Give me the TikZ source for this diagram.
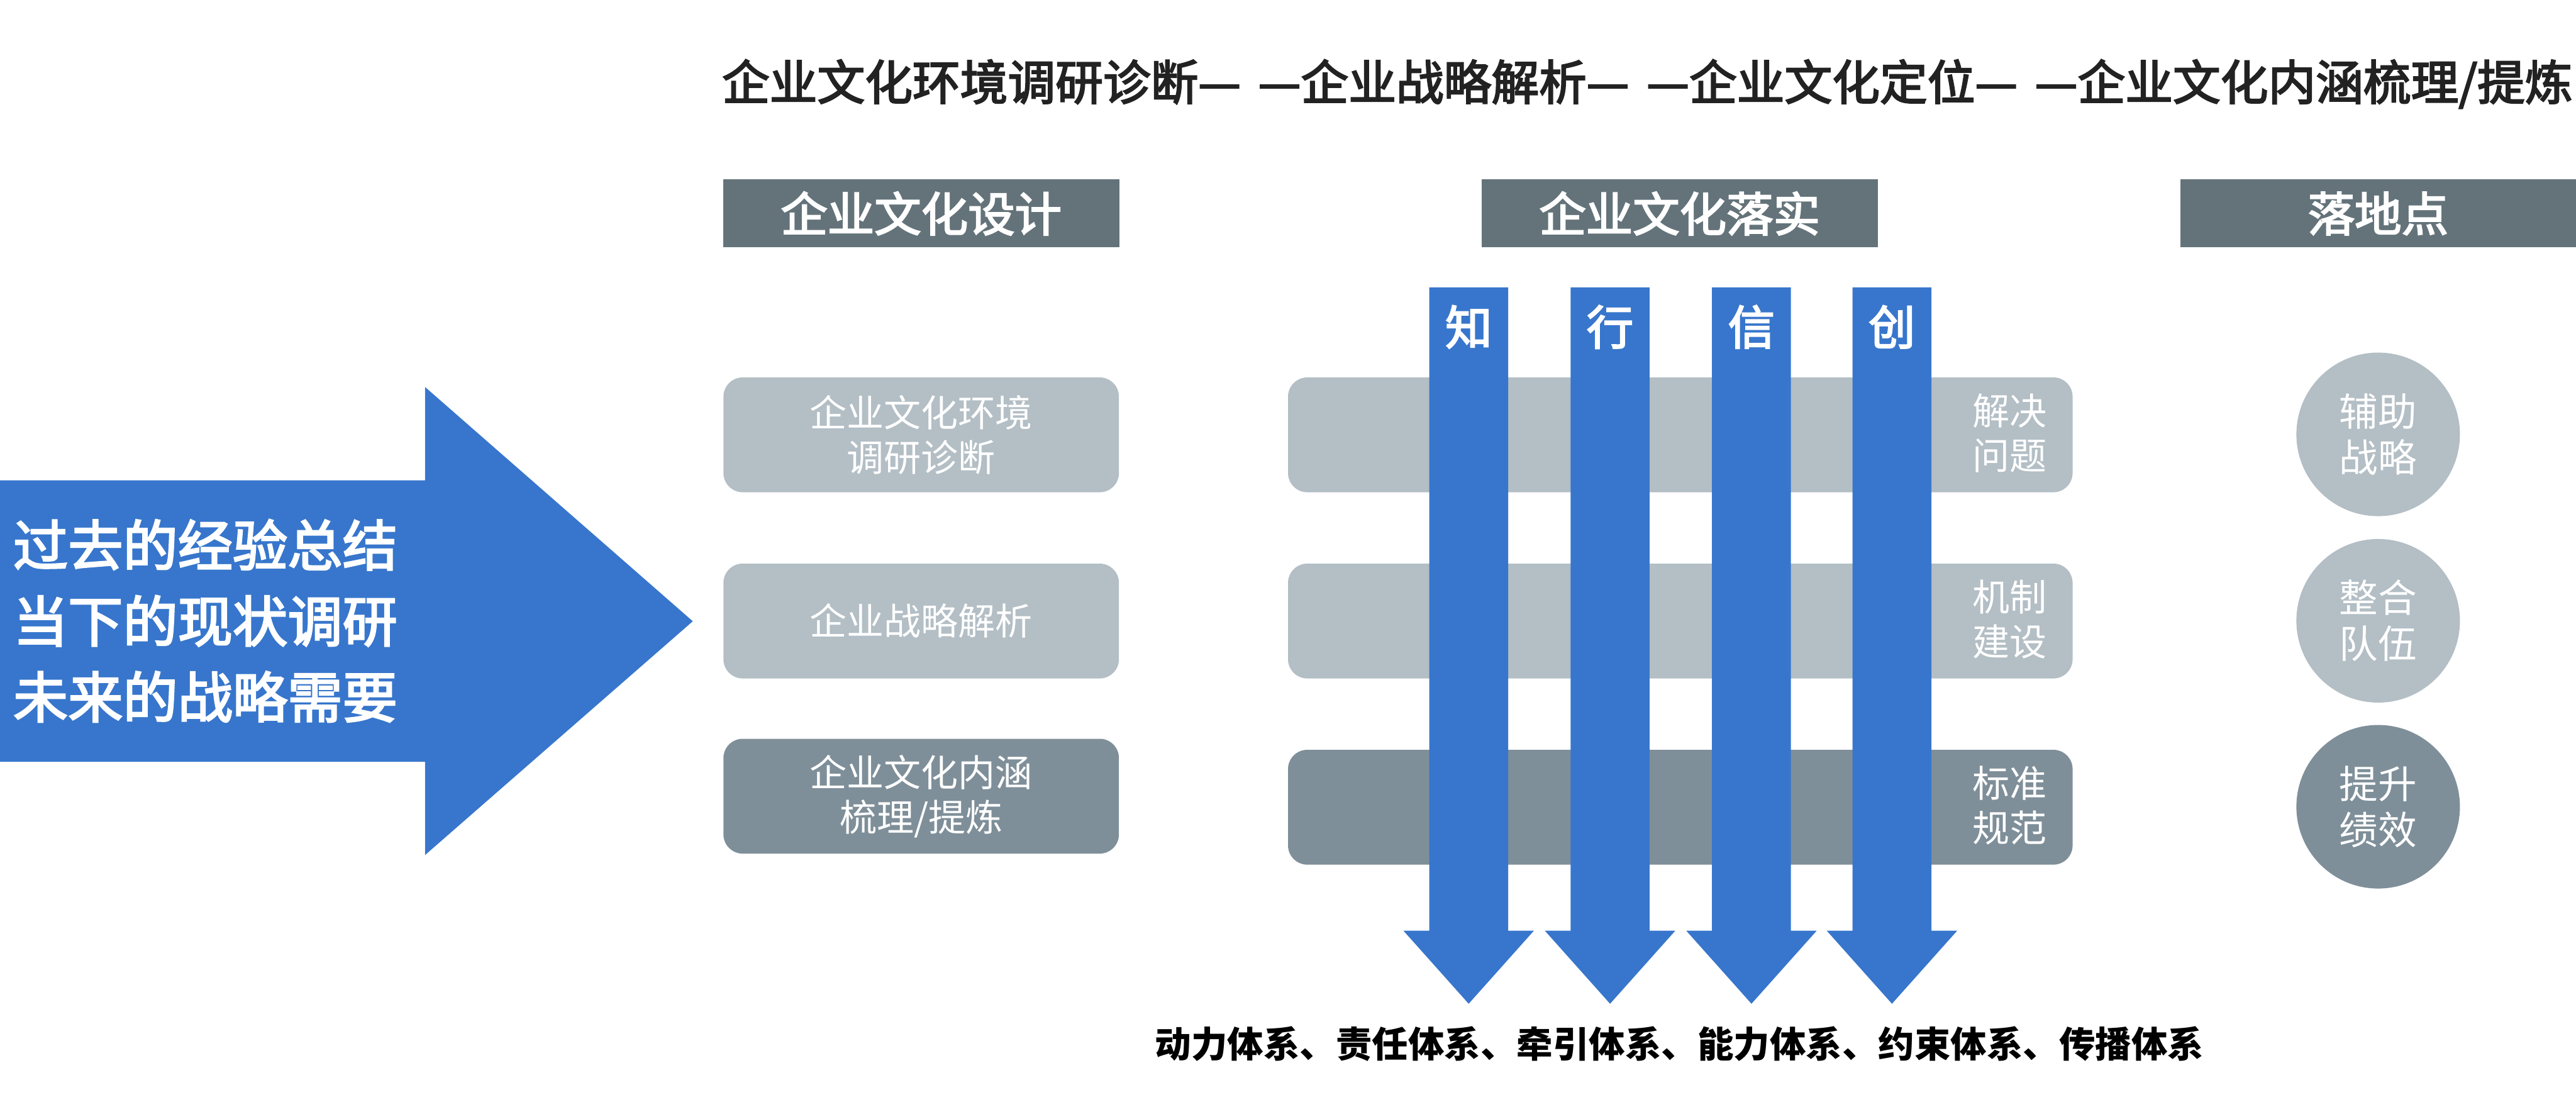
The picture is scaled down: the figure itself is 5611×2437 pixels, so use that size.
\documentclass[tikz,border=0pt]{standalone}
\usepackage{fontspec}
\setmainfont{Noto Sans CJK SC}
\newfontfamily\cjkmed{Noto Sans CJK SC}[FakeBold=3]
\definecolor{hdrgray}{HTML}{64737A}
\definecolor{lightbox}{HTML}{B3BEC5}
\definecolor{darkbox}{HTML}{7F8F99}
\definecolor{arrowblue}{HTML}{3776CC}
\definecolor{titleink}{HTML}{222222}
\begin{document}
\begin{tikzpicture}[x=0.01cm,y=-0.01cm,
  hdrbox/.style={fill=hdrgray,inner sep=0,minimum width=8.62cm,minimum height=1.48cm,text=white,font=\cjkmed\fontsize{29}{34}\selectfont},
  lbox/.style={fill=lightbox,rounded corners=0.42cm,inner sep=0,minimum width=8.61cm,minimum height=2.5cm,text=white,align=center,font=\fontsize{23}{27.6}\selectfont},
  dbox/.style={lbox,fill=darkbox},
  mbox/.style={fill=lightbox,rounded corners=0.42cm,inner sep=0,minimum width=17.08cm,minimum height=2.5cm},
  mdbox/.style={mbox,fill=darkbox},
  mtext/.style={text=white,align=center,inner sep=0,font=\fontsize{23}{27.4}\selectfont},
  circ/.style={circle,fill=lightbox,inner sep=0,minimum size=3.56cm,text=white,align=center,font=\fontsize{24}{28.5}\selectfont},
  dcirc/.style={circ,fill=darkbox},
  alabel/.style={text=white,inner sep=0,font=\cjkmed\fontsize{29}{34}\selectfont},
  varrow/.style={fill=arrowblue}
]
\useasboundingbox (0,0) rectangle (5611,2437);

% title
\node[anchor=west,inner sep=0,text=titleink,font=\cjkmed\fontsize{29.5}{34}\selectfont] (title) at (1572,183)
  {企业文化环境调研诊断—\hspace{0.38cm}—企业战略解析—\hspace{0.38cm}—企业文化定位—\hspace{0.38cm}—企业文化内涵梳理/提炼};

% headers
\node[hdrbox] (h1) at (2006.5,465) {企业文化设计};
\node[hdrbox] (h2) at (3658.5,465) {企业文化落实};
\node[hdrbox] (h3) at (5180,465) {落地点};

% big left arrow
\fill[arrowblue] (-5,1046) -- (926,1046) -- (926,843) -- (1509,1353) -- (926,1862) -- (926,1659) -- (-5,1659) -- cycle;
\node[anchor=west,inner sep=0,text=white,align=left,font=\cjkmed\fontsize{34}{47}\selectfont] (past) at (28,1352)
  {过去的经验总结\\当下的现状调研\\未来的战略需要};

% left boxes
\node[lbox] (d1) at (2006.5,947) {企业文化环境\\调研诊断};
\node[lbox] (d2) at (2006.5,1352.5) {企业战略解析};
\node[dbox] (d3) at (2006.5,1734) {企业文化内涵\\梳理/提炼};

% middle boxes
\node[mbox] (m1) at (3660,947) {};
\node[mbox] (m2) at (3660,1352.5) {};
\node[mdbox] (m3) at (3660,1758) {};

% vertical arrows
\foreach \cx/\nm/\ch in {3199/a1/知,3507/a2/行,3815/a3/信,4121/a4/创}{
  \fill[varrow] (\cx-86,626) -- (\cx+86,626) -- (\cx+86,2027) -- (\cx+142,2027) -- (\cx,2186) -- (\cx-142,2027) -- (\cx-86,2027) -- cycle;
  \node[alabel] (\nm) at (\cx,712) {\ch};
}

% middle box texts
\node[mtext] (t1) at (4378,943) {解决\\问题};
\node[mtext] (t2) at (4378,1349) {机制\\建设};
\node[mtext] (t3) at (4378,1754) {标准\\规范};

% circles
\node[circ] (c1) at (5180,946) {辅助\\战略};
\node[circ] (c2) at (5180,1352) {整合\\队伍};
\node[dcirc] (c3) at (5180,1757) {提升\\绩效};

% bottom text
\node[inner sep=0,text=black,font=\bfseries\fontsize{22.4}{26}\selectfont] (systems) at (3658,2274)
  {动力体系、责任体系、牵引体系、能力体系、约束体系、传播体系};
\end{tikzpicture}
\end{document}
